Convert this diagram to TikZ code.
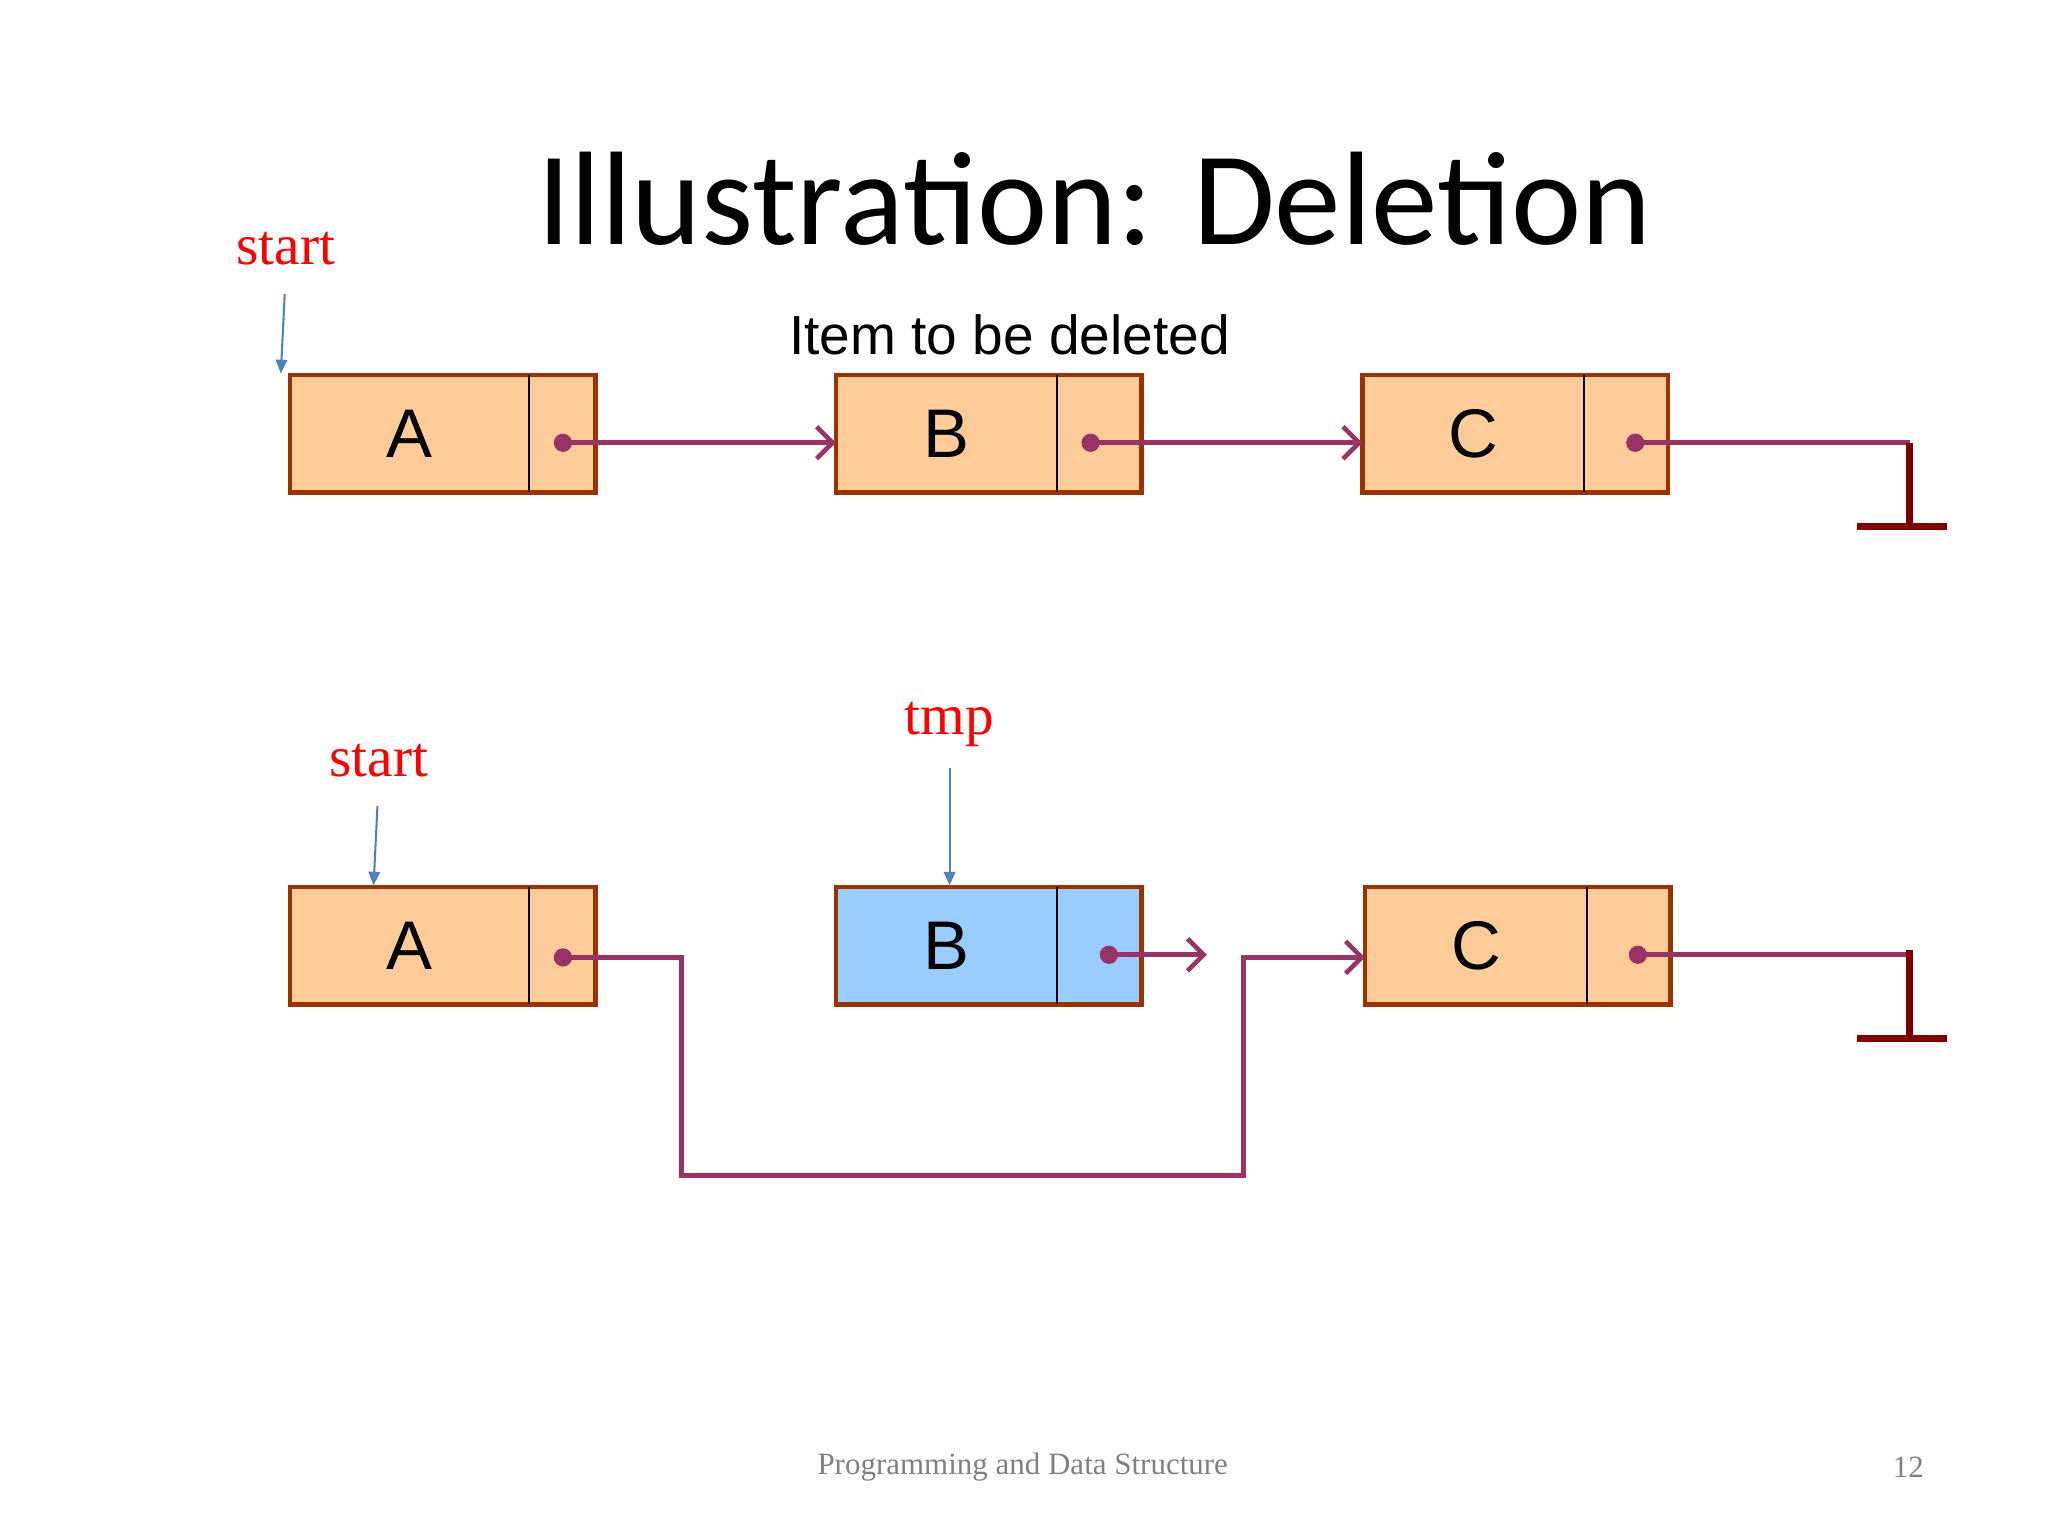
\documentclass[tikz,border=0pt]{standalone}
\usepackage{fontspec}
\setmainfont{Liberation Serif}
\newfontfamily\calib{Carlito}
\newfontfamily\arial{Liberation Sans}
\usetikzlibrary{arrows.meta}
\definecolor{boxfill}{HTML}{FFCC99}
\definecolor{boxline}{HTML}{993300}
\definecolor{ptr}{HTML}{993366}
\definecolor{gnd}{HTML}{800000}
\definecolor{bluefill}{HTML}{99CCFF}
\definecolor{lbl}{HTML}{4F81BD}
\begin{document}
\begin{tikzpicture}[x=0.02cm,y=-0.02cm,
  cell/.style={draw=boxline,line width=2pt,fill=boxfill},
  link/.style={draw=ptr,line width=2.2pt},
  tip/.style={-{Straight Barb[length=7pt,width=14pt,line width=2pt]}},
  ground/.style={draw=gnd,line width=3pt},
  letter/.style={font=\arial\fontsize{30}{30}\selectfont},
  redlbl/.style={text=red,font=\fontsize{25}{25}\selectfont},
  thin/.style={draw=lbl,line width=0.9pt,-{Triangle[length=6pt,width=5pt]}}]
\useasboundingbox (0,0) rectangle (1568,1176);
\node[font=\calib\fontsize{58}{58}\selectfont] (title) at (838,152) {Illustration: Deletion};
% top row
\foreach \n/\x/\d/\t/\y/\f in {a1/222/405/A/287/boxfill,b1/640/809/B/287/boxfill,c1/1043/1213/C/287/boxfill,a2/222/405/A/679/boxfill,b2/640/809/B/679/bluefill,c2/1045/1215/C/679/boxfill}{
  \draw[cell,fill=\f] (\x,\y) rectangle ++(234,90);
  \coordinate (\n w) at (\x,\y+45);
  \draw[black,line width=1pt] (\d,\y) -- (\d,\y+90);
  \node[letter] (\n) at ({(\x+\d)/2},\y+45) {\t};
}
\fill[ptr] (431,339) circle (7) coordinate (pa1);
\fill[ptr] (835,339) circle (7) coordinate (pb1);
\fill[ptr] (1252,339) circle (7) coordinate (pc1);
\coordinate (b1w) at (640,339); \coordinate (c1w) at (1043,339);
\draw[link,tip] (pa1) -- (b1w);
\draw[link,tip] (pb1) -- (c1w);
\coordinate (g1) at (1462,339); \coordinate (g1b) at (1462,403);
\draw[link] (pc1) -- (g1);
\draw[ground] (g1) -- (g1b);
\draw[ground] (1422,403) -- (1491,403);
\node[redlbl] (s1) at (219,190) {start};
\draw[thin] (218,225) -- (215,286);
\node[font=\arial\fontsize{24}{24}\selectfont] (item) at (773,256) {Item to be deleted};
% bottom row
\fill[ptr] (431,733) circle (7) coordinate (pa2);
\fill[ptr] (849,731) circle (7) coordinate (pb2);
\fill[ptr] (1254,731) circle (7) coordinate (pc2);
\coordinate (c2w) at (1045,733);
\coordinate (bend) at (924,731);
\draw[link,tip] (pa2) -- (522,733) -- (522,900) -- (952,900) -- (952,733) -- (c2w);
\draw[link,tip] (pb2) -- (bend);
\coordinate (g2) at (1462,731); \coordinate (g2b) at (1462,795);
\draw[link] (pc2) -- (g2);
\draw[ground] (1462,727) -- (g2b);
\draw[ground] (1422,795) -- (1491,795);
\node[redlbl] (s2) at (290,582) {start};
\draw[thin] (289,617) -- (286,678);
\node[redlbl] (tmp) at (727,555) {tmp};
\draw[thin] (727,588) -- (727,678);
\node[text=gray,font=\fontsize{13.5}{14}\selectfont] (foot) at (783,1123) {Programming and Data Structure};
\node[text=gray,font=\fontsize{13.5}{14}\selectfont] (pg) at (1461,1123) {12};
\end{tikzpicture}
\end{document}
